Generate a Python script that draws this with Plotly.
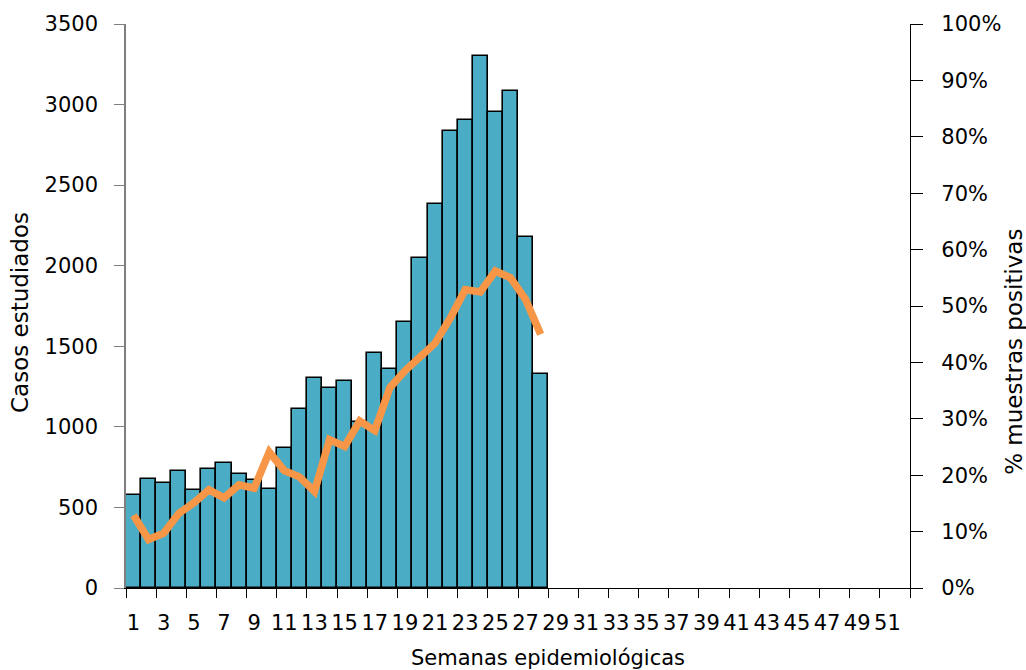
import plotly.graph_objects as go

weeks = list(range(1, 29))
casos = [575, 676, 654, 727, 609, 741, 778, 708, 668, 615, 866, 1111, 1305, 1240,
         1284, 1029, 1460, 1357, 1651, 2047, 2385, 2834, 2904, 3300, 2956, 3086,
         2179, 1328]
positivos = [12.9, 8.6, 9.7, 13.2, 15.1, 17.4, 16.0, 18.3, 17.7, 24.1, 20.8, 19.7,
             17.1, 26.3, 25.1, 29.6, 27.9, 35.5, 38.5, 40.9, 43.4, 47.8, 52.9, 52.5,
             56.2, 55.0, 51.2, 45.0]
x_labels = list(range(1, 52, 2))
x_tick_marks = [w + 0.5 for w in range(0, 53, 2)]
left_ticks = list(range(0, 3501, 500))
right_ticks = list(range(0, 101, 10))
right_labels = [f"{v}%" for v in right_ticks]

FONT = "DejaVu Sans"
TICK = 21
fig = go.Figure()
fig.add_trace(go.Bar(x=weeks, y=casos, marker=dict(color="#4BACC6",
                     line=dict(color="black", width=1.6)), yaxis="y", showlegend=False))
fig.add_trace(go.Scatter(x=weeks, y=positivos, mode="lines", yaxis="y2",
                         line=dict(color="#F79646", width=7.5), showlegend=False))

fig.update_layout(
    width=1026, height=670,
    margin=dict(l=126, r=116, t=22, b=82),
    paper_bgcolor="white", plot_bgcolor="white",
    bargap=0,
    font=dict(family=FONT, size=TICK, color="black"),
    xaxis=dict(range=[0.5, 52.5], tickmode="array", tickvals=x_labels,
               ticktext=[str(v) for v in x_labels], ticks="", showgrid=False,
               showline=True, linecolor="black", linewidth=1.2, zeroline=False,
               tickfont=dict(size=TICK), ticklabelstandoff=16,
               minor=dict(tickmode="array", tickvals=x_tick_marks, ticks="outside",
                          ticklen=9, tickcolor="black", tickwidth=1.2, showgrid=False)),
    yaxis=dict(range=[0, 3500], tickmode="array", tickvals=left_ticks, ticks="outside",
               ticklen=10, tickcolor="#7f7f7f", tickwidth=1.2, showgrid=False,
               showline=True, linecolor="#7f7f7f", linewidth=1.5, zeroline=False,
               ticklabelstandoff=12, tickfont=dict(size=TICK)),
    yaxis3=dict(range=[0, 3500], overlaying="y", anchor="x", tickmode="array",
                tickvals=left_ticks, ticks="inside", ticklen=10, tickcolor="#7f7f7f",
                tickwidth=1.2, showticklabels=False, showgrid=False, showline=False,
                zeroline=False),
    yaxis2=dict(range=[0, 100], overlaying="y", side="right", anchor="x",
                tickmode="array", tickvals=right_ticks, ticktext=right_labels,
                ticks="outside", ticklen=12, tickcolor="black", tickwidth=1.2,
                showgrid=False, showline=True, linecolor="black", linewidth=1.2,
                zeroline=False, ticklabelstandoff=14, tickfont=dict(size=TICK)),
    yaxis4=dict(range=[0, 100], overlaying="y", side="right", anchor="x",
                tickmode="array", tickvals=right_ticks, ticks="inside", ticklen=12,
                tickcolor="black", tickwidth=1.2, showticklabels=False, showgrid=False,
                showline=False, zeroline=False),
)

fig.add_annotation(text="Semanas epidemiológicas", xref="paper", yref="paper",
                   x=(548 - 126) / 784, y=0, yshift=-70, showarrow=False,
                   xanchor="center", yanchor="middle", font=dict(size=21))
fig.add_annotation(text="Casos estudiados", xref="paper", yref="paper",
                   x=0, xshift=-106, y=(588 - 312) / 566, showarrow=False, textangle=-90,
                   xanchor="center", yanchor="middle", font=dict(size=23))
fig.add_annotation(text="% muestras positivas", xref="paper", yref="paper",
                   x=1, xshift=104, y=(588 - 351) / 566, showarrow=False, textangle=-90,
                   xanchor="center", yanchor="middle", font=dict(size=23))

fig.write_html("out.html", post_script="document.body.style.margin='0';",
               config={"displayModeBar": False})
